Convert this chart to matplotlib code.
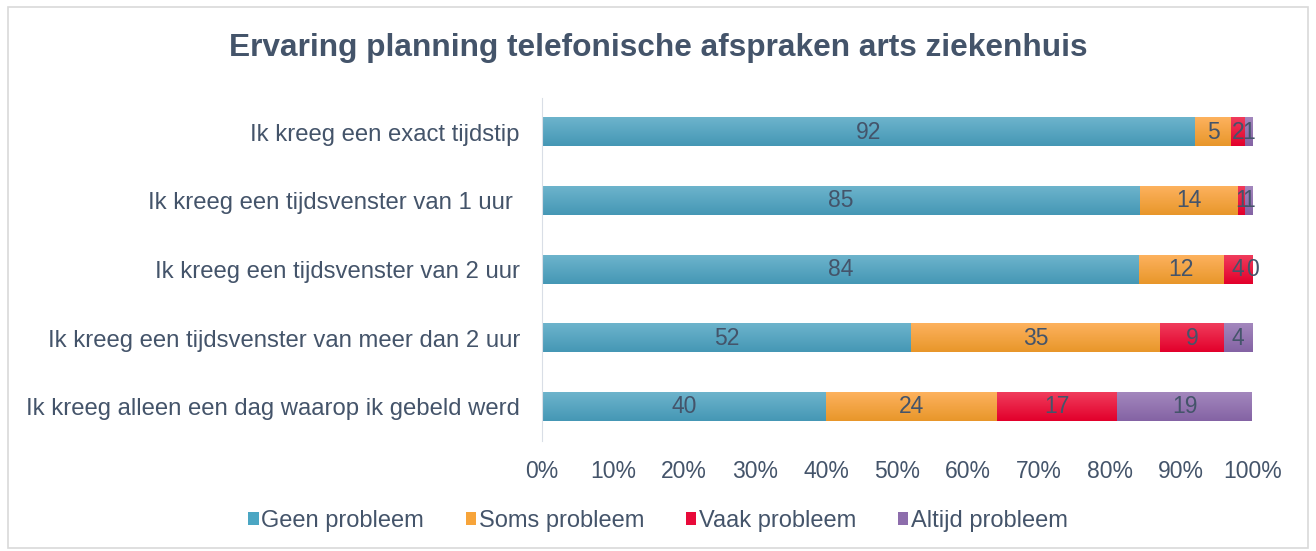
import matplotlib
matplotlib.use('Agg')
import matplotlib.pyplot as plt
from matplotlib.colors import LinearSegmentedColormap
import numpy as np

plt.rcParams['font.family'] = ['Liberation Sans', 'DejaVu Sans']

# data
categories = ['Ik kreeg een exact tijdstip',
              'Ik kreeg een tijdsvenster van 1 uur ',
              'Ik kreeg een tijdsvenster van 2 uur',
              'Ik kreeg een tijdsvenster van meer dan 2 uur',
              'Ik kreeg alleen een dag waarop ik gebeld werd']
series = ['Geen probleem', 'Soms probleem', 'Vaak probleem', 'Altijd probleem']
geen = [92, 85, 84, 52, 40]
soms = [5, 14, 12, 35, 24]
vaak = [2, 1, 4, 9, 17]
altijd = [1, 1, 0, 4, 19]

colors = ['#4BA6C3', '#F7A43A', '#E80A3A', '#8D6DAC']
# light top -> darker bottom, like the excel gradient fill
grads = [('#6DB4CC', '#4597B5'), ('#FDB25E', '#E8962A'),
         ('#F03C5C', '#E2002B'), ('#A387BD', '#8463A4')]
txt = '#44546A'

vals = np.array([geen, soms, vaak, altijd], dtype=float)
pct = vals / vals.sum(axis=0) * 100  # 100% stacked

fig = plt.figure(figsize=(13.16, 5.51), dpi=100)
ax = fig.add_axes([0.412, 0.1996, 0.5395, 0.6224])

y = np.arange(len(categories))
left = np.zeros(len(categories))
grad = np.linspace(0, 1, 64).reshape(-1, 1)
for i, name in enumerate(series):
    bars = ax.barh(y, pct[i], left=left, height=0.41, color=colors[i], label=name)
    cmap = LinearSegmentedColormap.from_list('g%d' % i, grads[i])
    for b in bars:
        x0, yb = b.get_x(), b.get_y()
        w, h = b.get_width(), b.get_height()
        if w <= 0:
            continue
        ax.imshow(grad, cmap=cmap, aspect='auto', origin='upper',
                  extent=(x0, x0 + w, yb + h, yb), zorder=b.get_zorder() + 0.1,
                  interpolation='bilinear')
    ax.bar_label(bars, labels=[str(int(v)) for v in vals[i]], label_type='center',
                 color=txt, fontsize=16.5, zorder=5)
    left += pct[i]

ax.set_xlim(0, 100)
ax.set_ylim(-0.5, len(categories) - 0.5)
ax.invert_yaxis()
ax.set_yticks(y)
ax.set_yticklabels(categories, fontsize=17.2, color=txt)
ax.set_xticks(range(0, 101, 10))
ax.set_xticklabels(['{}%'.format(t) for t in range(0, 101, 10)], fontsize=16.5, color=txt)
ax.tick_params(axis='both', length=0)
ax.tick_params(axis='x', pad=14)
ax.tick_params(axis='y', pad=16)
for s in ['top', 'right', 'bottom']:
    ax.spines[s].set_visible(False)
ax.spines['left'].set_color('#D9DEE6')

fig.text(0.5, 0.912, 'Ervaring planning telefonische afspraken arts ziekenhuis',
         ha='center', va='center', fontsize=22.8, fontweight='bold', color=txt)

fig.legend(loc='center', bbox_to_anchor=(0.5, 0.054), ncol=4, frameon=False,
           fontsize=17, handlelength=0.45, handleheight=0.45, handletextpad=0.12,
           columnspacing=1.75, labelcolor=txt)

# outer border
fig.patches.append(plt.Rectangle((0.006, 0.006), 0.988, 0.981, transform=fig.transFigure,
                                 fill=False, edgecolor='#D9D9D9', lw=1.2))

fig.savefig('out.png', dpi=100)
